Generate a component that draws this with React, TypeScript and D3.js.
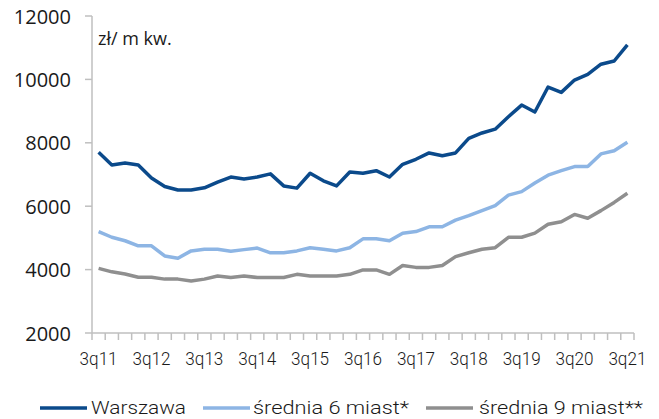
import React from "react";
import * as d3 from "d3";

const quarters = [
  "3q11","4q11","1q12","2q12","3q12","4q12","1q13","2q13","3q13","4q13",
  "1q14","2q14","3q14","4q14","1q15","2q15","3q15","4q15","1q16","2q16",
  "3q16","4q16","1q17","2q17","3q17","4q17","1q18","2q18","3q18","4q18",
  "1q19","2q19","3q19","4q19","1q20","2q20","3q20","4q20","1q21","2q21","3q21",
];

const warszawa = [
  7700,7300,7360,7300,6890,6620,6510,6510,6580,6760,
  6920,6860,6920,7020,6640,6570,7040,6800,6640,7080,
  7040,7120,6920,7320,7480,7680,7590,7680,8140,8310,
  8430,8820,9190,8970,9760,9590,9980,10160,10480,10580,11090,
];

const srednia6 = [
  5200,5020,4910,4750,4750,4430,4360,4590,4640,4640,
  4580,4630,4680,4530,4530,4590,4690,4640,4590,4690,
  4970,4970,4910,5150,5200,5350,5350,5560,5700,5860,
  6020,6350,6460,6730,6980,7120,7250,7250,7650,7750,8020,
];

const srednia9 = [
  4040,3930,3860,3760,3760,3700,3700,3640,3700,3800,
  3750,3800,3750,3750,3750,3850,3800,3800,3800,3850,
  3990,3990,3850,4130,4070,4070,4130,4410,4530,4640,
  4690,5020,5020,5150,5430,5510,5740,5620,5860,6120,6410,
];

const yTicks = [2000, 4000, 6000, 8000, 10000, 12000];
const xLabels = ["3q11","3q12","3q13","3q14","3q15","3q16","3q17","3q18","3q19","3q20","3q21"];

const seriesNames = ["Warszawa", "średnia 6 miast*", "średnia 9 miast**"];
const seriesColors = ["#0b4a8b", "#8db5e4", "#8f8f8f"];

export default function App() {
  const W = 659, H = 419;
  const left = 92, right = 634, top = 16, bottom = 333;
  const x = d3.scalePoint<string>().domain(quarters).range([left, right]).padding(0.5);
  const y = d3.scaleLinear().domain([2000, 12000]).range([bottom, top]);
  const step = x.step();
  const line = d3
    .line<number>()
    .x((_, i) => x(quarters[i]) as number)
    .y((v) => y(v));
  const data = [warszawa, srednia6, srednia9];
  const axisColor = "#bfbfbf";
  const textColor = "#1a1a1a";

  const boundaries = quarters.map((q) => (x(q) as number) - step / 2);
  boundaries.push((x(quarters[quarters.length - 1]) as number) + step / 2);

  const legendItems = [
    { lx: 40, tx: 91, tl: 95 },
    { lx: 203, tx: 253, tl: 156 },
    { lx: 426, tx: 479, tl: 164 },
  ];

  return (
    <svg width={W} height={H} style={{ position: "absolute", left: 0, top: 0 }}>
      <rect width={W} height={H} fill="#ffffff" />
      {/* y axis */}
      <line x1={left} x2={left} y1={top} y2={bottom} stroke={axisColor} strokeWidth={1.5} />
      {yTicks.map((t) => (
        <g key={t}>
          <line x1={left - 7} x2={left} y1={y(t)} y2={y(t)} stroke={axisColor} strokeWidth={1.5} />
          <text
            x={71}
            y={y(t)}
            textAnchor="end"
            dominantBaseline="central"
            fontFamily="'Open Sans', sans-serif"
            fontSize={20}
            fill={textColor}
          >
            {t}
          </text>
        </g>
      ))}
      {/* x axis */}
      <line x1={left} x2={right} y1={bottom} y2={bottom} stroke={axisColor} strokeWidth={1.5} />
      {boundaries.map((b, i) => (
        <line key={i} x1={b} x2={b} y1={bottom} y2={bottom + 7} stroke={axisColor} strokeWidth={1.5} />
      ))}
      {xLabels.map((l) => (
        <text
          key={l}
          x={x(l) as number}
          y={358}
          textAnchor="middle"
          dominantBaseline="central"
          fontFamily="Roboto, sans-serif"
          fontWeight={300}
          fontSize={18}
          textLength={38}
          lengthAdjust="spacingAndGlyphs"
          fill={textColor}
        >
          {l}
        </text>
      ))}
      <text
        x={98}
        y={38}
        dominantBaseline="central"
        fontFamily="'Open Sans', sans-serif"
        fontSize={18}
        fill={textColor}
      >
        zł/ m kw.
      </text>
      {/* lines */}
      {data.map((d, i) => (
        <path
          key={i}
          d={line(d) || ""}
          fill="none"
          stroke={seriesColors[i]}
          strokeWidth={3.5}
          strokeLinejoin="round"
        />
      ))}
      {/* legend */}
      {legendItems.map((it, i) => (
        <g key={i}>
          <line x1={it.lx} x2={it.lx + 47} y1={408} y2={408} stroke={seriesColors[i]} strokeWidth={3.5} />
          <text
            x={it.tx}
            y={407}
            dominantBaseline="central"
            fontFamily="Roboto, sans-serif"
            fontWeight={300}
            fontSize={18}
            textLength={it.tl}
            lengthAdjust="spacingAndGlyphs"
            fill={textColor}
          >
            {seriesNames[i]}
          </text>
        </g>
      ))}
    </svg>
  );
}
